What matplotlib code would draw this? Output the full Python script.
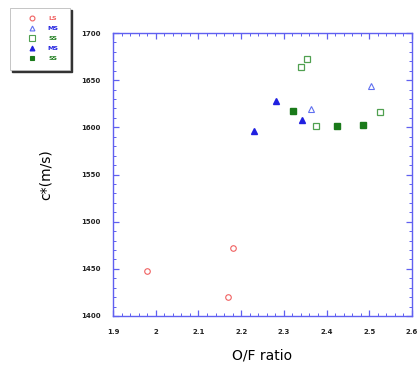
import matplotlib
matplotlib.use("Agg")
import matplotlib.pyplot as plt
from matplotlib.ticker import MultipleLocator
from matplotlib.patches import Rectangle

# ---------------------------------------------------------
# DATA
# ---------------------------------------------------------

ls_open_x = [1.98, 2.182, 2.17]
ls_open_y = [1448, 1472, 1420]

ms_open_x = [2.364, 2.504]
ms_open_y = [1619, 1644]

ss_open_x = [2.34, 2.354, 2.375, 2.525]
ss_open_y = [1664, 1672, 1601, 1616]

ms_fill_x = [2.231, 2.282, 2.342]
ms_fill_y = [1596, 1628, 1608]

ss_fill_x = [2.322, 2.424, 2.485]
ss_fill_y = [1617, 1601, 1602]

legend_labels = ["LS", "MS", "SS", "MS", "SS"]
x_ticks = [1.9, 2.0, 2.1, 2.2, 2.3, 2.4, 2.5, 2.6]
x_tick_labels = ["1.9", "2", "2.1", "2.2", "2.3", "2.4", "2.5", "2.6"]
y_ticks = [1400, 1450, 1500, 1550, 1600, 1650, 1700]

# ---------------------------------------------------------
# FIGURE
# ---------------------------------------------------------

fig = plt.figure(figsize=(4.19, 3.69), dpi=100)
ax = fig.add_axes([113 / 419, 53 / 369, 299 / 419, 283 / 369])

red = "#f06060"
blue = "#2020e0"
lblue = "#6070f0"
green = "#1a7a1a"
lgreen = "#50a050"

ax.plot(ls_open_x, ls_open_y, "o", ms=4, mfc="none", mec=red, mew=0.8)
ax.plot(ms_open_x, ms_open_y, "^", ms=4.5, mfc="none", mec=lblue, mew=0.8)
ax.plot(ss_open_x, ss_open_y, "s", ms=5, mfc="none", mec=lgreen, mew=0.9)
ax.plot(ms_fill_x, ms_fill_y, "^", ms=4.5, color=blue)
ax.plot(ss_fill_x, ss_fill_y, "s", ms=4.5, color=green)

ax.set_xlim(1.9, 2.6)
ax.set_ylim(1400, 1700)
ax.set_xticks(x_ticks)
ax.set_xticklabels(x_tick_labels)
ax.set_yticks(y_ticks)
ax.xaxis.set_minor_locator(MultipleLocator(0.02))
ax.yaxis.set_minor_locator(MultipleLocator(10))

axis_blue = "#6060f0"
for s in ax.spines.values():
    s.set_color(axis_blue)
    s.set_linewidth(1.0)
ax.tick_params(which="both", direction="in", top=True, right=True,
               color=axis_blue, labelsize=5, labelcolor="#222222")
ax.tick_params(which="major", length=4, width=0.9)
ax.tick_params(which="minor", length=2, width=0.7)
ax.tick_params(axis="x", which="major", pad=9)
ax.tick_params(axis="y", which="major", pad=9)
for t in ax.get_xticklabels() + ax.get_yticklabels():
    t.set_fontweight("bold")

ax.set_xlabel("O/F ratio", fontsize=10, labelpad=10)
ax.set_ylabel("c*(m/s)", fontsize=10, labelpad=20)

# ---------------------------------------------------------
# LEGEND (boxed, with drop shadow, top-left of the figure)
# ---------------------------------------------------------

fig.patches.append(Rectangle((12 / 419, 1 - 72 / 369), 60 / 419, 62 / 369,
                             transform=fig.transFigure, color="#333333", zorder=1))
fig.patches.append(Rectangle((10 / 419, 1 - 70 / 369), 60 / 419, 62 / 369,
                             transform=fig.transFigure, facecolor="white",
                             edgecolor="#bbbbbb", lw=0.6, zorder=2))

leg_styles = [
    ("o", "none", red, 3.5),
    ("^", "none", lblue, 3.5),
    ("s", "none", lgreen, 4),
    ("^", blue, blue, 3.5),
    ("s", green, green, 3.5),
]
leg_colors = [red, blue, green, blue, green]
leg_y = [18, 28, 38, 48, 58]
for (m, fc, ec, size), lab, col, yy in zip(leg_styles, legend_labels, leg_colors, leg_y):
    fy = 1 - yy / 369
    fig.add_artist(plt.Line2D([32 / 419], [fy], marker=m, ms=size, mfc=fc,
                              mec=ec, mew=0.8, ls="none", zorder=3,
                              transform=fig.transFigure))
    fig.text(53 / 419, fy, lab, color=col, fontsize=4.5, fontweight="bold",
             ha="center", va="center", zorder=3)

fig.savefig("out.png", dpi=100)
